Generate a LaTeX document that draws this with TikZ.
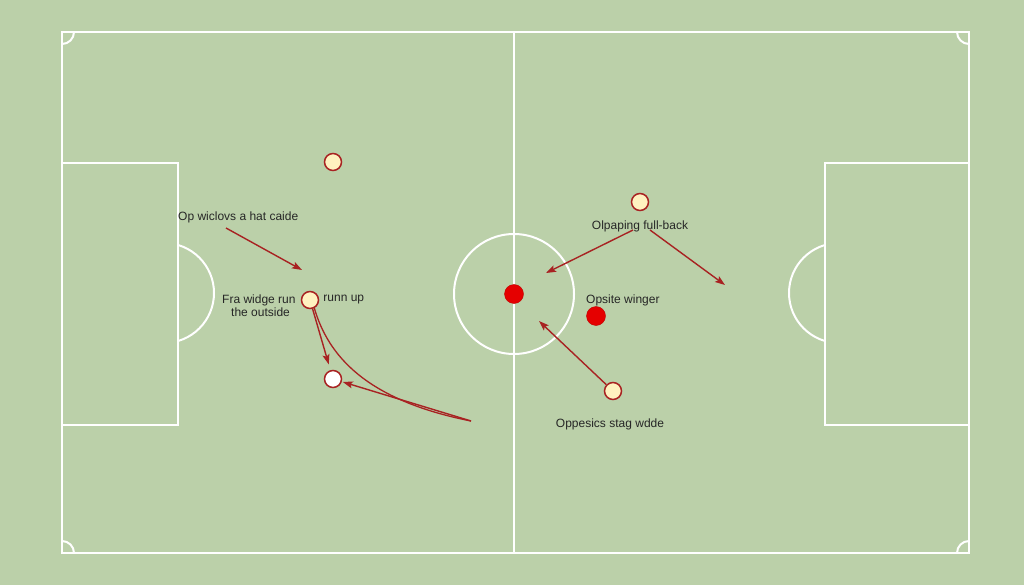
\documentclass[tikz,border=0pt]{standalone}
\usepackage{fontspec}
\setmainfont{Liberation Sans}
\usetikzlibrary{arrows.meta,positioning}
\definecolor{pitch}{HTML}{BBD0A9}
\definecolor{runred}{HTML}{A82222}
\definecolor{cream}{HTML}{FFF1C0}

\begin{document}
\begin{tikzpicture}[x=1pt,y=-1pt,>={Stealth[length=10pt,width=7pt,inset=2pt]},
        pitch line/.style={white,line width=2pt},
        player/.style={circle,draw=runred,fill=cream,line width=1.5pt,minimum size=17pt,inner sep=0pt},
        red dot/.style={circle,fill=red!90!black,draw=red!75!black,minimum size=19pt,inner sep=0pt},
        run/.style={->,runred,line width=1.4pt},
        tag/.style={font=\fontsize{12}{14}\selectfont,text=black!85,inner sep=0pt}]
        \fill[pitch] (0,0) rectangle (1024,585);
        % pitch
        \draw[pitch line] (62,32) rectangle (969,553);
        \draw[pitch line] (514,32) -- (514,553);
        \draw[pitch line] (514,294) circle (60);
        \draw[pitch line] (62,163) rectangle (178,425);
        \draw[pitch line] (825,163) rectangle (969,425);
        \begin{scope}
        \clip (178,0) rectangle (300,585);
        \draw[pitch line] (164,293) circle (50);
        \end{scope}
        \begin{scope}
        \clip (700,0) rectangle (825,585);
        \draw[pitch line] (839,293) circle (50);
        \end{scope}
        \begin{scope}
        \clip (62,32) rectangle (969,553);
        \foreach \cx/\cy in {62/32,969/32,62/553,969/553}
        \draw[pitch line] (\cx,\cy) circle (12);
        \end{scope}
        % players
        \node[player] (top) at (333,162) {};
        \node[player] (fw) at (310,300) {};
        \node[player,fill=white] (wb) at (333,379) {};
        \node[player] (fb) at (640,202) {};
        \node[player] (sw) at (613,391) {};
        \node[red dot] (ball) at (514,294) {};
        \node[red dot] (ow) at (596,316) {};
        % labels
        \node[tag,anchor=west] (caide) at (178,217) {Op wiclovs a hat caide};
        \node[tag,left=5pt of fw] (fra) {Fra widge run};
        \node[tag,anchor=west] (outside) at (231,312) {the outside};
        \node[tag,right=4pt of fw] (runn) {runn up};
        \node[tag,below=9pt of fb] (fblabel) {Olpaping full-back};
        \node[tag,anchor=west] (owlabel) at (586,300) {Opsite winger};
        \node[tag] (swlabel) at (610,424) {Oppesics stag wdde};
        % runs
        \coordinate (a1) at (226,228);
        \coordinate (a2) at (302,270);
        \coordinate (c1) at (471,421);
        \coordinate (b1) at (633,230);
        \coordinate (b2) at (546,273);
        \coordinate (b3) at (650,230);
        \coordinate (b4) at (725,285);
        \coordinate (s1) at (539,321);
        \draw[run] (a1) -- (a2);
        \draw[run,shorten >=6pt] (fw) -- (wb);
        \draw[runred,line width=1.3pt] (fw.-62) .. controls (328,355) and (365,400) .. (c1);
        \draw[run,shorten >=1pt] (c1) -- (wb);
        \draw[run] (b1) -- (b2);
        \draw[run] (b3) -- (b4);
        \draw[run] (sw) -- (s1);
\end{tikzpicture}
\end{document}
